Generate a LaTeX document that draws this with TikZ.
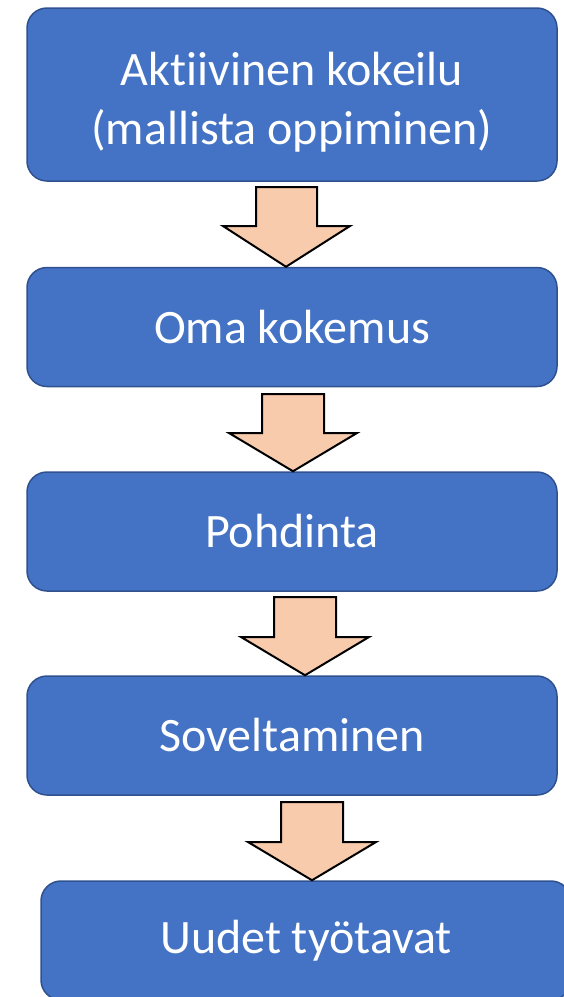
\documentclass[tikz,border=0pt]{standalone}
\usepackage{fontspec}
\setmainfont{Carlito}[Ligatures=NoCommon]
\definecolor{boxblue}{HTML}{4472C4}
\definecolor{boxedge}{HTML}{2F528F}
\definecolor{peach}{HTML}{F8CBAD}
\tikzset{
  stage/.style={draw=boxedge, line width=1.5pt, fill=boxblue, rounded corners=20pt,
    minimum width=530pt, minimum height=119pt, inner sep=0pt,
    text=white, align=center, font=\fontsize{48}{59}\selectfont},
  blockarrow/.style={draw=black, line width=2pt, fill=peach, line join=miter}
}
\begin{document}
\begin{tikzpicture}[x=1pt, y=-1pt]
   \useasboundingbox (0,0) rectangle (564,997);

   \node[stage, minimum height=173pt] (kokeilu) at (292,94.5) {\rule{0pt}{48pt}Aktiivinen kokeilu\\(mallista oppiminen)};
   \node[stage] (kokemus) at (292,327) {Oma kokemus};
   \node[stage] (pohdinta) at (292,531.5) {Pohdinta};
   \node[stage] (soveltaminen) at (292,735.5) {Soveltaminen};
   \node[stage] (tyotavat) at (306,940.5) {Uudet työtavat};

   \draw[blockarrow] (256,187) -- (317,187) -- (317,226) -- (350,226)
      -- (kokemus.north -| 286,0) -- (223,226) -- (256,226) -- cycle;
   \draw[blockarrow] (262,394) -- (324,394) -- (324,433) -- (357,433)
      -- (pohdinta.north -| 293,0) -- (229,433) -- (262,433) -- cycle;
   \draw[blockarrow] (274,597) -- (336,597) -- (336,637) -- (369,637)
      -- (soveltaminen.north -| 305,0) -- (241,637) -- (274,637) -- cycle;
   \draw[blockarrow] (281,802) -- (343,802) -- (343,842) -- (376,842)
      -- (tyotavat.north -| 312,0) -- (248,842) -- (281,842) -- cycle;
\end{tikzpicture}
\end{document}
